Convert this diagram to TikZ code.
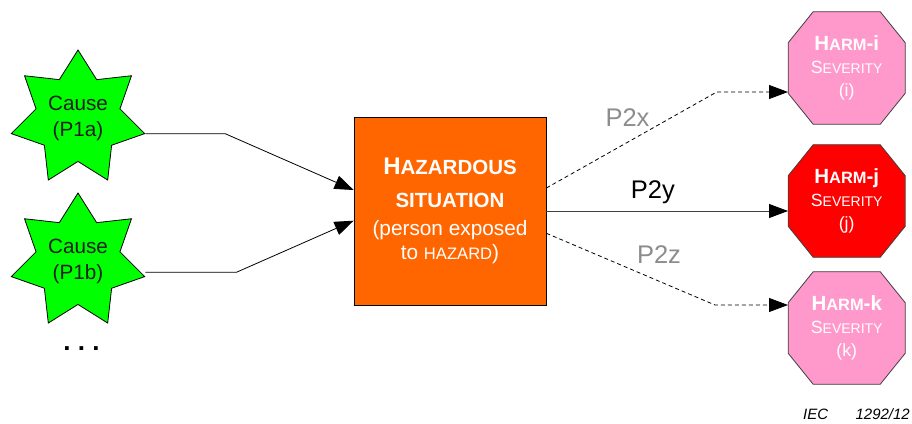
\documentclass[tikz,border=0pt]{standalone}
\usepackage{fontspec}
\setmainfont{Liberation Sans}
\usetikzlibrary{arrows.meta,shapes.geometric}
\definecolor{starG}{RGB}{0,255,0}
\definecolor{boxO}{RGB}{255,102,0}
\definecolor{harmP}{RGB}{255,153,204}
\definecolor{harmR}{RGB}{255,0,0}
\definecolor{lblG}{RGB}{140,140,140}
\newcommand\hsc[2]{{\fontsize{#1}{#1}\selectfont #2}}
\begin{document}
\begin{tikzpicture}[x=1pt,y=-1pt,
 causestar/.style={star, star points=7, star point ratio=1.59, minimum size=136.8pt, inner sep=0pt, draw=black, line width=0.8pt, fill=starG, align=center, text=black!88, font=\fontsize{20.7}{26.7}\selectfont},
 hazbox/.style={rectangle, draw=black, line width=0.8pt, fill=boxO, minimum width=192pt, minimum height=188pt, inner sep=0pt, align=center, text=white, font=\fontsize{20.8}{24}\selectfont},
 harmline/.style={draw=black!75, line width=0.8pt},
 harmtext/.style={rectangle, minimum width=117pt, minimum height=112.6pt, inner sep=0pt, align=center, text=white, font=\fontsize{17.7}{22.7}\selectfont},
 conn/.style={line width=0.8pt, -{Triangle[length=19pt,width=14pt,black]}},
 dconn/.style={conn, dash pattern=on 4pt off 3pt},
 plabel/.style={anchor=base, font=\fontsize{25.5}{25.5}\selectfont, inner sep=0pt},
 reftext/.style={inner sep=0pt, font=\itshape\fontsize{15}{15}\selectfont},
]
\useasboundingbox (0,0) rectangle (912,423);

% causes
\node[causestar] (s1) at (78,118.4) {Cause\\(P1a)};
\node[causestar] (s2) at (78,261.4) {Cause\\(P1b)};
\node[anchor=base, inner sep=0pt, font=\bfseries\fontsize{26}{26}\selectfont] (dots) at (81.5,350) {.\ .\ .};

% hazardous situation
\node[hazbox] (box) at (450,211) {{\bfseries\fontsize{24}{24}\selectfont H\hsc{20.5}{AZARDOUS}}\\[9pt]{\bfseries\hsc{20.5}{SITUATION}}\\[4pt](person exposed\\to \hsc{16.6}{HAZARD})};

% harms (octagons)
\coordinate (ci) at (846.7,68);
\coordinate (cj) at (846.7,201);
\coordinate (ck) at (846.7,328);
\foreach \c/\col in {ci/harmP, cj/harmR, ck/harmP}
  \path[harmline, fill=\col] (\c) ++(-33.5,-56.3) -- ++(67,0) -- ++(25,31) -- ++(0,50.6) -- ++(-25,31) -- ++(-67,0) -- ++(-25,-31) -- ++(0,-50.6) -- cycle;
\node[harmtext] (hi) at (ci) {{\bfseries\fontsize{20.5}{20.5}\selectfont H\hsc{16.4}{ARM}-i}\\S\hsc{14}{EVERITY}\\(i)};
\node[harmtext] (hj) at (cj) {{\bfseries\fontsize{20.5}{20.5}\selectfont H\hsc{16.4}{ARM}-j}\\S\hsc{14}{EVERITY}\\(j)};
\node[harmtext] (hk) at (ck) {{\bfseries\fontsize{20.5}{20.5}\selectfont H\hsc{16.4}{ARM}-k}\\S\hsc{14}{EVERITY}\\(k)};

% connectors in
\draw[conn] (s1.outer point 6) -- ++(80,0) -- ([yshift=21pt]box.west);
\draw[conn] ([yshift=4.5pt]s2.outer point 6) -- ++(91,0) -- ([yshift=-9.7pt]box.west);

% connectors out
\coordinate (bx) at (716.7,92);
\coordinate (bz) at (715,305);
\draw[dconn] ([yshift=23pt]box.east) -- (bx) -- (bx -| hi.west);
\draw[conn, draw=black!75] (box.east) -- ([yshift=-10pt]hj.west);
\draw[dconn] ([yshift=-22.3pt]box.east) -- (bz) -- (bz -| hk.west);

% labels
\node[plabel, text=lblG] (p2x) at (627.5,126.7) {P2x};
\node[plabel, text=black] (p2y) at (652.8,198) {P2y};
\node[plabel, text=lblG] (p2z) at (659,263) {P2z};

% reference
\node[reftext, anchor=base west] (iec) at (803,419) {IEC};
\node[reftext, anchor=base east] (num) at (910,419) {1292/12};
\end{tikzpicture}
\end{document}
